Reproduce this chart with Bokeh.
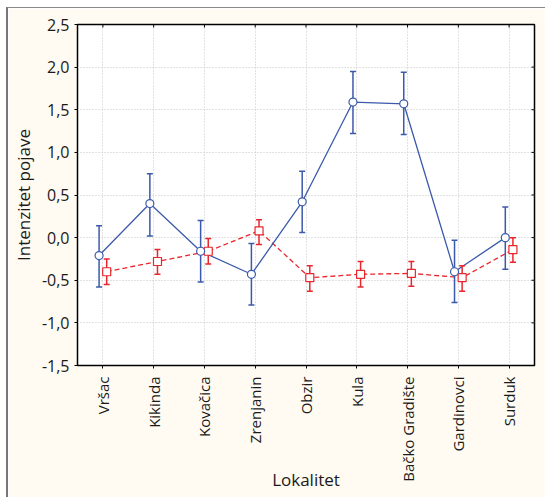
import math
from bokeh.plotting import figure
from bokeh.models import (FactorRange, Range1d, FixedTicker, CustomJSTickFormatter,
                          ColumnDataSource)
from bokeh.transform import dodge
from bokeh.embed import file_html
from bokeh.resources import INLINE

categories = ["Vršac", "Kikinda", "Kovačica", "Zrenjanin", "Obzir", "Kula",
              "Bačko Gradište", "Gardinovci", "Surduk"]
blue_mean = [-0.21, 0.40, -0.16, -0.43, 0.42, 1.59, 1.57, -0.40, 0.00]
blue_lo = [-0.58, 0.02, -0.52, -0.79, 0.06, 1.22, 1.21, -0.76, -0.37]
blue_hi = [0.14, 0.75, 0.20, -0.07, 0.78, 1.95, 1.94, -0.03, 0.36]
red_mean = [-0.40, -0.28, -0.16, 0.08, -0.47, -0.43, -0.42, -0.47, -0.14]
red_lo = [-0.55, -0.43, -0.31, -0.08, -0.63, -0.58, -0.57, -0.63, -0.29]
red_hi = [-0.25, -0.14, -0.01, 0.21, -0.33, -0.28, -0.28, -0.33, 0.00]
y_ticks = [-1.5, -1.0, -0.5, 0.0, 0.5, 1.0, 1.5, 2.0, 2.5]

FONT = "Open Sans"
BLUE = "#3c5aab"
RED = "#e8262c"
CREAM = "#fffbf2"

p = figure(x_range=FactorRange(*categories), y_range=Range1d(y_ticks[0], y_ticks[-1]),
           width=539, height=490, output_backend="svg", toolbar_location=None,
           min_border_left=64, min_border_top=16, min_border_right=13,
           min_border_bottom=133)
p.border_fill_color = CREAM
p.background_fill_color = "white"
p.outline_line_color = "black"
p.outline_line_width = 1.5
p.styles = {"margin-left": "6px", "margin-top": "7px",
            "border-left": "2px solid #777777", "border-top": "1px solid #888888"}

fmt = CustomJSTickFormatter(code="return tick.toFixed(1).replace('.', ',');")

p.yaxis.ticker = FixedTicker(ticks=y_ticks)
p.yaxis.formatter = fmt
p.yaxis.minor_tick_line_color = None
p.yaxis.major_tick_out = 3
p.yaxis.major_tick_in = 0
p.yaxis.major_label_standoff = 5
p.yaxis.axis_label = "Intenzitet pojave"
p.yaxis.axis_label_standoff = 4

p.xaxis.major_label_orientation = math.pi / 2
p.xaxis.major_tick_out = 3
p.xaxis.major_tick_in = 0
p.xaxis.major_label_standoff = 8
p.xaxis.axis_label = "Lokalitet"
p.xaxis.axis_label_standoff = -17

for ax in (p.xaxis[0], p.yaxis[0]):
    ax.axis_line_color = "black"
    ax.major_tick_line_color = "black"
    ax.major_label_text_font = FONT
    ax.major_label_text_font_size = "15px"
    ax.major_label_text_color = "#1a1a1a"
    ax.axis_label_text_font = FONT
    ax.axis_label_text_font_size = "17px"
    ax.axis_label_text_font_style = "normal"
    ax.axis_label_text_color = "#1a1a1a"
p.yaxis.major_label_text_font_size = "16px"

for g in (p.xgrid[0], p.ygrid[0]):
    g.grid_line_color = "#c4c4c4"
    g.grid_line_dash = "1 2"
    g.grid_line_width = 1

# inner ticks on top and right frame edges
top_src = ColumnDataSource(dict(cat=categories, y=[y_ticks[-1]] * len(categories)))
p.scatter(x="cat", y="y", source=top_src, marker="dash", angle=math.pi / 2, size=6,
          line_color="black", line_width=1)
right_src = ColumnDataSource(dict(cat=[categories[-1]] * len(y_ticks), y=y_ticks))
p.scatter(x=dodge("cat", 0.5, range=p.x_range), y="y", source=right_src, marker="dash",
          size=6, line_color="black", line_width=1)

src_b = ColumnDataSource(dict(cat=categories, m=blue_mean, lo=blue_lo, hi=blue_hi))
src_r = ColumnDataSource(dict(cat=categories, m=red_mean, lo=red_lo, hi=red_hi))

xb = dodge("cat", -0.075, range=p.x_range)
xr = dodge("cat", 0.075, range=p.x_range)

p.line(x=xr, y="m", source=src_r, line_color=RED, line_width=1.3, line_dash="5 3")
p.line(x=xb, y="m", source=src_b, line_color=BLUE, line_width=1.3)

for x, src, col in ((xr, src_r, RED), (xb, src_b, BLUE)):
    p.segment(x0=x, y0="lo", x1=x, y1="hi", source=src, line_color=col, line_width=1.5)
    p.scatter(x=x, y="lo", source=src, marker="dash", size=6, line_color=col, line_width=1.5)
    p.scatter(x=x, y="hi", source=src, marker="dash", size=6, line_color=col, line_width=1.5)

p.scatter(x=xr, y="m", source=src_r, marker="square", size=8, fill_color="white",
          line_color=RED, line_width=1.2)
p.scatter(x=xb, y="m", source=src_b, marker="circle", size=8, fill_color="white",
          line_color=BLUE, line_width=1.2)

open("out.html", "w").write(file_html(p, INLINE))
